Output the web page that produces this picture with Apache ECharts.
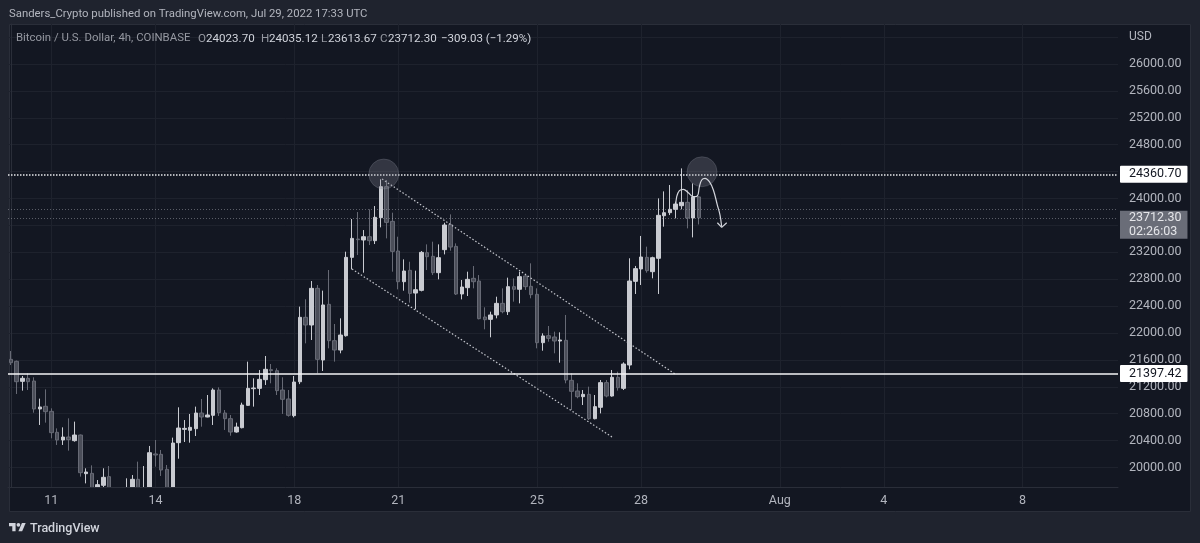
<!DOCTYPE html>
<html><head><meta charset="utf-8">
<style>html,body{margin:0;padding:0;background:#1f232e}#c{width:1200px;height:543px}</style>
<script src="https://cdn.jsdelivr.net/npm/echarts@6/dist/echarts.min.js"></script>
</head><body><div id="c"></div>
<script>
const opens=[21608,21579,21281,21326,21286,20870,20910,20835,20523,20409,20453,20399,20483,19908,19913,19640,19735,19864,19560,19300,19480,19660,19824,19440,19650,20201,20196,19973,19650,20369,20567,20553,20577,20810,20751,20776,21152,20810,20726,20528,20592,20924,21172,21177,21306,21455,21440,21152,21019,20771,21275,22233,22119,22664,21599,22426,21886,21747,21960,23125,23397,23383,23432,23373,23715,24176,23660,23219,22763,22932,22594,22634,23194,23140,22897,23239,23611,23288,22580,22674,22813,22773,22238,22203,22268,22441,22317,22689,22650,22848,22694,22575,21856,21960,21941,21881,21891,21296,21138,21053,21088,20726,20895,21262,21063,21341,21177,21524,22768,22952,23125,22912,23111,23744,23789,23839,23893,23943,23710,24023.70];
const closes=[21559,21276,21326,21276,20870,20900,20830,20518,20409,20453,20414,20483,19923,19933,19600,19745,19854,19560,19300,19450,19660,19824,19640,19650,20220,20186,19963,19650,20364,20587,20582,20597,20810,20751,20781,21152,20815,20726,20528,20602,20929,21177,21182,21311,21460,21440,21143,21014,20776,21271,22233,22119,22664,21608,22417,21886,21747,21970,23125,23407,23388,23432,23373,23720,24176,23645,23214,22763,22922,22589,22644,23199,23135,22897,23120,23606,23278,22580,22684,22798,22763,22213,22198,22268,22441,22317,22689,22650,22838,22689,22570,21856,21956,21921,21881,21896,21301,21133,21053,21088,20726,20905,21262,21063,21341,21187,21539,22773,22957,23130,22927,23120,23750,23789,23839,23918,23943,23710,24021.33,23712.30];
const lows=[21524,21093,21143,21152,20815,20632,20667,20434,20335,20335,20250,20384,19864,19764,19480,19560,19690,19480,19220,19180,19400,19560,19540,19380,19600,20012,19874,19560,19580,20131,20379,20369,20468,20607,20746,20632,20766,20558,20473,20518,20582,20915,20905,21078,21227,21252,21078,20796,20756,20746,21240,21846,21896,21400,21435,21772,21574,21698,21946,22946,23160,22897,23308,23323,23571,23407,22912,22649,22629,22451,22352,22619,22936,22862,22798,23169,23224,22565,22500,22550,22664,22203,22055,21936,22218,22293,22268,22466,22441,22640,22516,21772,21737,21871,21698,21559,21252,20855,21029,20929,20706,20716,20805,21043,21053,21143,21152,21460,22580,22714,22897,22813,22580,23581,23754,23705,23839,23556,23422,23613.67];
const highs=[21732,21590,21361,21400,21341,21024,21162,20880,20582,20597,20731,20682,20490,19988,20032,19814,19988,20022,19660,19640,19839,19888,20087,20022,20320,20409,20260,20037,20444,20895,20706,20796,20905,21019,21078,21177,21192,20855,20781,20667,20964,21574,21326,21450,21658,21539,21475,21341,21152,21361,22392,22501,22773,22714,22630,22937,22134,22218,23209,23695,23799,23531,23839,23888,24285,24275,23789,23432,23095,23060,22927,23219,23318,23358,23318,23640,23764,23333,22788,22912,22996,22862,22382,22317,22540,22664,22823,22813,22912,22863,23036,22664,21995,22104,22020,22010,22268,21400,21252,21152,21202,21078,21301,21301,21450,21425,21564,23111,22997,23443,23284,23135,24002,24106,24201,23953,24448,24126,24225,24035.12];

const slotCount=192;
const tickIndex=[7,25,49,67,91,109,133,151,175];
const tickLabels=['11','14','18','21','25','28','Aug','4','8'];
const gridPrices=[20000,20400,20800,21200,21600,22000,22400,22800,23200,23600,24000,24400,24800,25200,25600,26000,26400];
const labelPrices=[20000,20400,20800,21200,21600,22000,22400,22800,23200,24000,24800,25200,25600,26000];
const resistance=24360.70, support=21397.42, lastPrice=23712.30, prevLevel=23839;
const upperChannelX=[64.2,114.9], upperChannelY=[24290,21390];
const lowerChannelX=[59,104], lowerChannelY=[22951,20453];
const circleX=[64.5,119.55], circleY=[24364,24398];
const sketchX=[114.99,115.17,115.63,116.32,117.18,118.05,118.74,119.09,119.49,120.07,120.82,121.51,122.2,122.66,122.95];
const sketchY=[23878,24027,24116,24136,24086,24027,24037,24176,24275,24300,24250,24126,23903,23754,23581];
const arrowX=[122.2,122.95,123.82], arrowY=[23640,23571,23640];

const start=Date.UTC(2022,6,9,20);
const categories=Array.from({length:slotCount},(_,i)=>new Date(start+i*4*3600e3).toISOString().slice(5,16));
const labelOf={};tickIndex.forEach((t,k)=>labelOf[categories[t]]=tickLabels[k]);
const zip=(xs,ys)=>xs.map((x,i)=>[x,ys[i]]);

const PANEL='#1f232e',PANE='#131722',GRID='#1e222d',EDGE='#2a2e39',TXT='#b2b5be',DIM='#9598a1',BRIGHT='#d1d4dc';
const FONT='Roboto';
const txt=(x,y,text,fill,size,weight)=>({type:'text',x:x,y:y,silent:true,z:20,style:{text,fill:fill||DIM,font:(weight||'400')+' '+(size||12)+'px '+FONT}});
const thinLine=(v)=>({yAxis:v,lineStyle:{color:'rgba(190,193,203,.42)',width:1,type:[1,2]},label:{show:false}});
const priceTag={show:true,position:'end',distance:2,backgroundColor:'#ffffff',color:'#131722',fontFamily:FONT,fontSize:12.5,padding:[2,6,2,9],borderRadius:1};

const chart=echarts.init(document.getElementById('c'),null,{renderer:'canvas'});
chart.setOption({
 animation:false,backgroundColor:PANEL,
 grid:{left:8,right:82,top:24,bottom:56,containLabel:false},
 xAxis:[
  {type:'category',data:categories,boundaryGap:true,z:10,
   axisLine:{show:true,lineStyle:{color:EDGE}},axisTick:{show:false},splitLine:{show:false},
   axisLabel:{color:TXT,fontFamily:FONT,fontSize:12.5,margin:7,
     interval:(i)=>tickIndex.includes(i),formatter:(v)=>labelOf[v]||'',hideOverlap:false}},
  {type:'value',min:-0.5,max:slotCount-0.5,position:'bottom',
   axisLine:{show:false},axisLabel:{show:false},
   axisTick:{show:false,customValues:tickIndex},
   splitLine:{show:true,lineStyle:{color:GRID}}}
 ],
 yAxis:{type:'value',position:'right',min:19710,max:26595,scale:true,
  axisLine:{show:true,lineStyle:{color:EDGE}},
  axisTick:{show:false,customValues:gridPrices},
  splitLine:{show:true,lineStyle:{color:GRID}},
  axisLabel:{color:TXT,fontFamily:FONT,fontSize:12.5,margin:11,customValues:labelPrices,formatter:(v)=>v.toFixed(2)}},
 graphic:[
  {type:'rect',shape:{x:9.5,y:24.5,width:1181,height:487},z:-1,silent:true,style:{fill:PANE,stroke:EDGE,lineWidth:1}},
  {type:'rect',shape:{x:10,y:488,width:1109,height:23},z:4,silent:true,style:{fill:PANE}},
  txt(9,9,'Sanders_Crypto published on TradingView.com, Jul 29, 2022 17:33 UTC','#b2b5be',11.35),
  txt(16,33,'Bitcoin / U.S. Dollar, 4h, COINBASE',DIM,11.4),
  txt(198,33,'O',DIM,11.6),txt(206,33,'24023.70',BRIGHT,11.6),
  txt(261,33,'H',DIM,11.6),txt(269,33,'24035.12',BRIGHT,11.6),
  txt(321,33,'L',DIM,11.6),txt(328,33,'23613.67',BRIGHT,11.6),
  txt(380,33,'C',DIM,11.6),txt(388,33,'23712.30',BRIGHT,11.6),
  txt(441,33,'\u2212309.03 (\u22121.29%)',BRIGHT,11.5),
  txt(1129,31,'USD',TXT,12),
  txt(30,522,'TradingView',BRIGHT,12.5,'500'),
  {type:'group',x:9,y:521,scaleX:.47,scaleY:.47,silent:true,z:20,children:[
    {type:'polygon',shape:{points:[[14,22],[7,22],[7,11],[0,11],[0,4],[14,4]]},style:{fill:BRIGHT}},
    {type:'polygon',shape:{points:[[28,22],[20,22],[27.5,4],[35.5,4]]},style:{fill:BRIGHT}},
    {type:'circle',shape:{cx:20,cy:8,r:4},style:{fill:BRIGHT}}]}
 ],
 series:[
  {type:'candlestick',xAxisIndex:0,yAxisIndex:0,barWidth:4,z:3,
   data:opens.map((o,i)=>[o,closes[i],lows[i],highs[i]]),
   itemStyle:{color:'#c9cbd1',color0:'#4b4e59',borderColor:'#c9cbd1',borderColor0:'#676a75',borderWidth:1},
   markLine:{silent:true,symbol:'none',animation:false,z:6,data:[
     {yAxis:resistance,lineStyle:{color:'#e8e9ec',width:1.5,type:[1.5,1.5]},label:{...priceTag,formatter:resistance.toFixed(2)}},
     {yAxis:support,lineStyle:{color:'#f4f4f6',width:1.5,type:'solid'},label:{...priceTag,formatter:support.toFixed(2)}},
     {yAxis:lastPrice,lineStyle:{color:'rgba(190,193,203,.42)',width:1,type:[1,2]},
      label:{show:true,position:'end',distance:2,offset:[0,7],backgroundColor:'#6a6d78',color:'#e4e5e9',fontFamily:FONT,fontSize:12.5,lineHeight:14,padding:[0,6,0,9],formatter:lastPrice.toFixed(2)+'\n02:26:03'}},
     thinLine(prevLevel)
   ]}},
  {type:'line',xAxisIndex:1,yAxisIndex:0,data:zip(upperChannelX,upperChannelY),showSymbol:false,z:5,silent:true,lineStyle:{color:'#c4c6cd',width:1.2,type:[1.5,2]}},
  {type:'line',xAxisIndex:1,yAxisIndex:0,data:zip(lowerChannelX,lowerChannelY),showSymbol:false,z:5,silent:true,lineStyle:{color:'#c4c6cd',width:1.2,type:[1.5,2]}},
  {type:'scatter',xAxisIndex:1,yAxisIndex:0,data:zip(circleX,circleY),symbolSize:30,z:7,silent:true,itemStyle:{color:'rgba(135,138,150,.35)',borderColor:'rgba(150,153,165,.3)',borderWidth:1}},
  {type:'line',xAxisIndex:1,yAxisIndex:0,data:zip(sketchX,sketchY),smooth:.4,showSymbol:false,z:8,silent:true,lineStyle:{color:'#d3d5dc',width:1.2}},
  {type:'line',xAxisIndex:1,yAxisIndex:0,data:zip(arrowX,arrowY),showSymbol:false,z:8,silent:true,lineStyle:{color:'#d3d5dc',width:1.2}}
 ]
});
</script></body></html>
